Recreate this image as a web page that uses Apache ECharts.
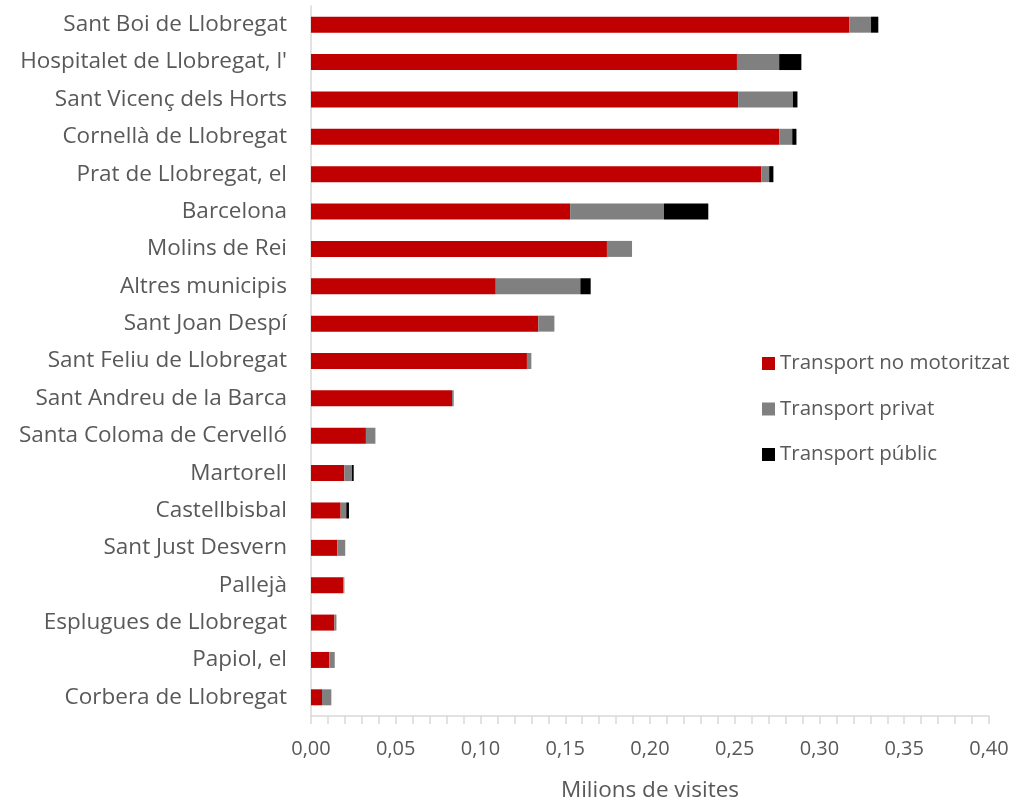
<!DOCTYPE html>
<html><head><meta charset="utf-8">
<script src="https://cdn.jsdelivr.net/npm/echarts@6/dist/echarts.min.js"></script>
<style>html,body{margin:0;padding:0;background:#fff}#c{width:1017px;height:802px}</style>
</head><body><div id="c"></div>
<script>
const categories = ["Sant Boi de Llobregat","Hospitalet de Llobregat, l'","Sant Vicenç dels Horts","Cornellà de Llobregat","Prat de Llobregat, el","Barcelona","Molins de Rei","Altres municipis","Sant Joan Despí","Sant Feliu de Llobregat","Sant Andreu de la Barca","Santa Coloma de Cervelló","Martorell","Castellbisbal","Sant Just Desvern","Pallejà","Esplugues de Llobregat","Papiol, el","Corbera de Llobregat"];
const noMotoritzat = [0.3175,0.2513,0.2520,0.2762,0.2656,0.1529,0.1746,0.1090,0.1341,0.1274,0.0832,0.0324,0.0197,0.0175,0.0155,0.0191,0.0138,0.0108,0.0065];
const privat = [0.0129,0.0249,0.0323,0.0077,0.0047,0.0553,0.0148,0.0499,0.0095,0.0026,0.0010,0.0056,0.0045,0.0033,0.0047,0.0006,0.0012,0.0032,0.0055];
const public_ = [0.0043,0.0131,0.0027,0.0025,0.0025,0.0262,0,0.0061,0,0,0,0,0.0010,0.0016,0,0,0,0,0];
const seriesNames = ["Transport no motoritzat","Transport privat","Transport públic"];
const colors = ["#C00000","#808080","#000000"];
const FONT = "Open Sans";
const chart = echarts.init(document.getElementById('c'));
const mk = (name, data, color) => ({name, type:'bar', stack:'t', data, barWidth:16, itemStyle:{color}});
chart.setOption({
  animation:false,
  textStyle:{fontFamily:FONT},
  grid:{left:311, right:28, top:6, bottom:86, containLabel:false, outerBoundsMode:'none'},
  legend:{orient:'vertical', left:757, top:348, itemWidth:13, itemHeight:13, itemGap:24.5,
    icon:'rect', textStyle:{fontSize:20.5, color:'#595959', fontFamily:FONT},
    data:seriesNames},
  xAxis:{type:'value', min:0, max:0.4, interval:0.05,
    name:'Milions de visites', nameLocation:'middle', nameGap:63,
    nameTextStyle:{fontSize:22.5, color:'#595959', fontFamily:FONT},
    axisLine:{show:true, lineStyle:{color:'#d9d9d9', width:1.5}},
    axisTick:{show:true, length:8, inside:false, lineStyle:{color:'#d9d9d9', width:1.5}},
    minorTick:{show:true, splitNumber:5, length:8, lineStyle:{color:'#d9d9d9', width:1.5}},
    splitLine:{show:false},
    axisLabel:{fontSize:20, color:'#595959', margin:23, fontFamily:FONT,
      formatter:v=>v.toFixed(2).replace('.',',')}},
  yAxis:{type:'category', data:categories, inverse:true,
    axisLine:{show:true, lineStyle:{color:'#d9d9d9', width:1.5}},
    axisTick:{show:false},
    axisLabel:{fontSize:22.5, color:'#595959', margin:24, fontFamily:FONT}},
  series:[mk(seriesNames[0], noMotoritzat, colors[0]), mk(seriesNames[1], privat, colors[1]), mk(seriesNames[2], public_, colors[2])]
});
</script></body></html>
